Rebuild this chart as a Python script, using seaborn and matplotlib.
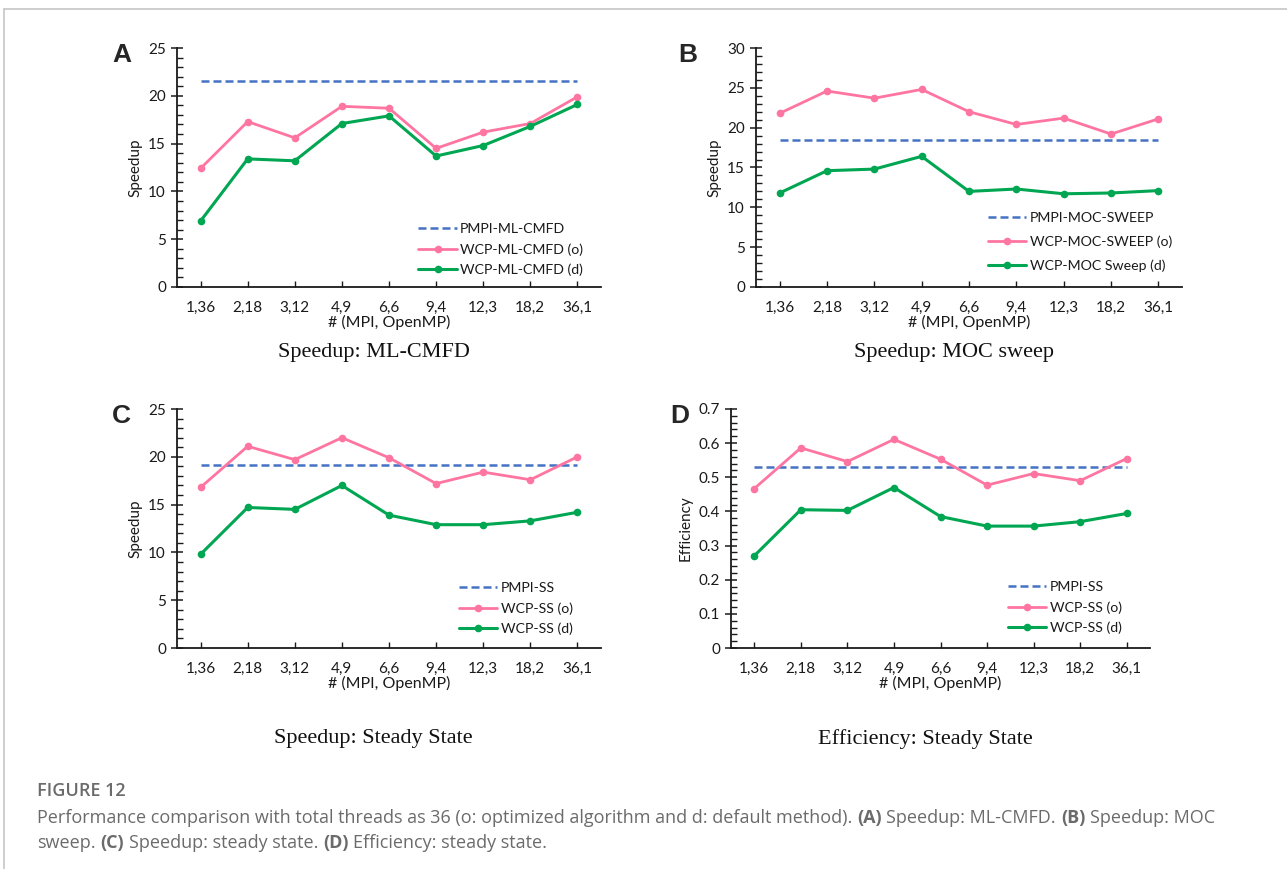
import pandas as pd
import seaborn as sns
import matplotlib.pyplot as plt
from matplotlib.lines import Line2D
from matplotlib.ticker import MultipleLocator

# x categories: (MPI ranks, OpenMP threads)
configs = ['1,36', '2,18', '3,12', '4,9', '6,6', '9,4', '12,3', '18,2', '36,1']

# panel A: speedup ML-CMFD
a_pmpi = [21.6, 21.6, 21.6, 21.6, 21.6, 21.6, 21.6, 21.6, 21.6]
a_opt = [12.4, 17.3, 15.6, 18.9, 18.7, 14.5, 16.2, 17.1, 19.9]
a_def = [6.9, 13.4, 13.2, 17.1, 17.9, 13.7, 14.8, 16.8, 19.1]

# panel B: speedup MOC sweep
b_pmpi = [18.5, 18.5, 18.5, 18.5, 18.5, 18.5, 18.5, 18.5, 18.5]
b_opt = [21.8, 24.6, 23.7, 24.8, 22.0, 20.4, 21.2, 19.2, 21.1]
b_def = [11.8, 14.6, 14.8, 16.4, 12.0, 12.3, 11.7, 11.8, 12.1]

# panel C: speedup steady state
c_pmpi = [19.1, 19.1, 19.1, 19.1, 19.1, 19.1, 19.1, 19.1, 19.1]
c_opt = [16.8, 21.1, 19.7, 22.0, 19.9, 17.2, 18.4, 17.6, 20.0]
c_def = [9.8, 14.7, 14.5, 17.0, 13.9, 12.9, 12.9, 13.3, 14.2]

# panel D: efficiency steady state
d_pmpi = [0.53, 0.53, 0.53, 0.53, 0.53, 0.53, 0.53, 0.53, 0.53]
d_opt = [0.467, 0.586, 0.546, 0.611, 0.553, 0.477, 0.511, 0.490, 0.555]
d_def = [0.270, 0.405, 0.403, 0.470, 0.385, 0.357, 0.357, 0.370, 0.394]

a_names = ['PMPI-ML-CMFD', 'WCP-ML-CMFD (o)', 'WCP-ML-CMFD (d)']
b_names = ['PMPI-MOC-SWEEP', 'WCP-MOC-SWEEP (o)', 'WCP-MOC Sweep (d)']
c_names = ['PMPI-SS', 'WCP-SS (o)', 'WCP-SS (d)']
d_names = ['PMPI-SS', 'WCP-SS (o)', 'WCP-SS (d)']

BLUE = '#4472c4'
PINK = '#ff75a1'
GREEN = '#00a651'
TICK_FONT = ['Lato', 'DejaVu Sans']

sns.set_style('ticks')
plt.rcParams['font.family'] = TICK_FONT

W, H = 1287, 869
fig = plt.figure(figsize=(W / 100, H / 100), dpi=100)


def px_axes(l, r, t, b):
    return fig.add_axes([l / W, 1 - b / H, (r - l) / W, (b - t) / H])


# axes, data, names, letter, title, ylabel, ymax, major, minor, legend anchor,
# legend spacing, tick format, letter x offset, title gap (px)
panels = [
    (px_axes(177, 601, 48, 287), a_pmpi, a_opt, a_def, a_names, 'A', 'Speedup: ML-CMFD',
     'Speedup', 25, 5, 1, (0.958, 0.046), 0.55, '{:.0f}', -0.153, 65),
    (px_axes(756, 1182, 48, 287), b_pmpi, b_opt, b_def, b_names, 'B', 'Speedup: MOC sweep',
     'Speedup', 30, 5, 1, (0.977, 0.063), 0.8, '{:.0f}', -0.183, 65),
    (px_axes(177, 601, 409, 648), c_pmpi, c_opt, c_def, c_names, 'C', 'Speedup: Steady State',
     'Speedup', 25, 5, 1, (0.934, 0.054), 0.55, '{:.0f}', -0.153, 91),
    (px_axes(731, 1150, 409, 648), d_pmpi, d_opt, d_def, d_names, 'D', 'Efficiency: Steady State',
     'Efficiency', 0.7, 0.1, 0.02, (0.933, 0.059), 0.55, '{:g}', -0.146, 91),
]

for (ax, pmpi, opt, dflt, names, letter, title, ylab, ymax, major, minor,
     leg_at, lspace, fmt, letter_x, title_gap) in panels:
    df = pd.DataFrame({'config': configs * 3,
                       'value': pmpi + opt + dflt,
                       'series': [names[0]] * 9 + [names[1]] * 9 + [names[2]] * 9})
    sns.lineplot(data=df[df.series == names[0]], x='config', y='value', ax=ax,
                 color=BLUE, linestyle=(0, (3.2, 1.6)), linewidth=1.8, label=names[0])
    sns.lineplot(data=df[df.series == names[1]], x='config', y='value', ax=ax,
                 color=PINK, linewidth=2, marker='o', markersize=5.5,
                 markeredgewidth=0, label=names[1])
    sns.lineplot(data=df[df.series == names[2]], x='config', y='value', ax=ax,
                 color=GREEN, linewidth=2.2, marker='o', markersize=5.5,
                 markeredgewidth=0, label=names[2])

    ax.set_xlim(-0.5, 8.5)
    ax.set_ylim(0, ymax)
    ax.yaxis.set_major_locator(MultipleLocator(major))
    ax.yaxis.set_minor_locator(MultipleLocator(minor))
    ax.set_yticklabels([fmt.format(v) for v in ax.get_yticks()])
    sns.despine(ax=ax)
    for sp in ['left', 'bottom']:
        ax.spines[sp].set_linewidth(1.3)
        ax.spines[sp].set_color('#1a1a1a')
    ax.tick_params(axis='y', which='major', direction='inout', length=8, width=1.1,
                   labelsize=11, colors='#1a1a1a', pad=4)
    ax.tick_params(axis='y', which='minor', direction='in', length=4, width=1.0,
                   colors='#1a1a1a')
    ax.tick_params(axis='x', which='major', direction='in', length=4, width=1.0,
                   labelsize=11, colors='#1a1a1a', pad=10)
    ax.set_ylabel(ylab, fontsize=11, color='#1a1a1a', labelpad=4)
    ax.set_xlabel('# (MPI, OpenMP)', fontsize=11.5, color='#1a1a1a', labelpad=0)

    leg = ax.legend(loc='lower right', bbox_to_anchor=leg_at, frameon=False,
                    fontsize=10.2, handlelength=2.7, handletextpad=0.25,
                    labelspacing=lspace, borderaxespad=0, borderpad=0)
    for t in leg.get_texts():
        t.set_color('#1a1a1a')

    # panel letter and title underneath
    ax.text(letter_x, 0.97, letter, transform=ax.transAxes,
            fontsize=19, fontweight='bold', family=['Liberation Sans', 'DejaVu Sans'],
            ha='left', va='center')
    bb = ax.get_position()
    ax.text(0.5 * (bb.x0 + bb.x1) - 0.012, bb.y0 - title_gap / H, title,
            transform=fig.transFigure, fontsize=16, family=['Liberation Serif', 'DejaVu Serif'],
            ha='center', va='center', color='#111111')

# page frame lines
fig.add_artist(Line2D([4 / W, 1], [1 - 9 / H, 1 - 9 / H], color='#c6c6c6', linewidth=1.2))
fig.add_artist(Line2D([4 / W, 4 / W], [0, 1 - 9 / H], color='#c6c6c6', linewidth=1.2))

# caption
cap = fig.add_axes([0, 0, 1, 1], zorder=-1)
cap.axis('off')
CAP_FONT = ['Open Sans', 'DejaVu Sans']
GRAY = '#6b6b6b'
CAP_SIZE = 13
cap.text(37 / W, 1 - 796 / H, 'FIGURE 12', transform=fig.transFigure, fontsize=13,
         fontweight='semibold', family=CAP_FONT, color=GRAY, va='baseline')


def caption_line(y, parts):
    prev = cap.text(37 / W, 1 - y / H, parts[0][0], transform=fig.transFigure,
                    fontsize=CAP_SIZE, family=CAP_FONT, color=GRAY, va='bottom',
                    fontweight='bold' if parts[0][1] else 'normal')
    for s, bold in parts[1:]:
        prev = cap.annotate(s, xy=(1, 0), xycoords=prev, xytext=(3.4, 0),
                            textcoords='offset points', fontsize=CAP_SIZE, family=CAP_FONT,
                            color=GRAY, va='bottom', ha='left',
                            fontweight='bold' if bold else 'normal')


caption_line(827, [('Performance comparison with total threads as 36 (o: optimized algorithm and d: default method).', False),
                   ('(A)', True), ('Speedup: ML-CMFD.', False), ('(B)', True), ('Speedup: MOC', False)])
caption_line(852, [('sweep.', False), ('(C)', True), ('Speedup: steady state.', False),
                   ('(D)', True), ('Efficiency: steady state.', False)])

fig.savefig('out.png', dpi=100, facecolor='white')
